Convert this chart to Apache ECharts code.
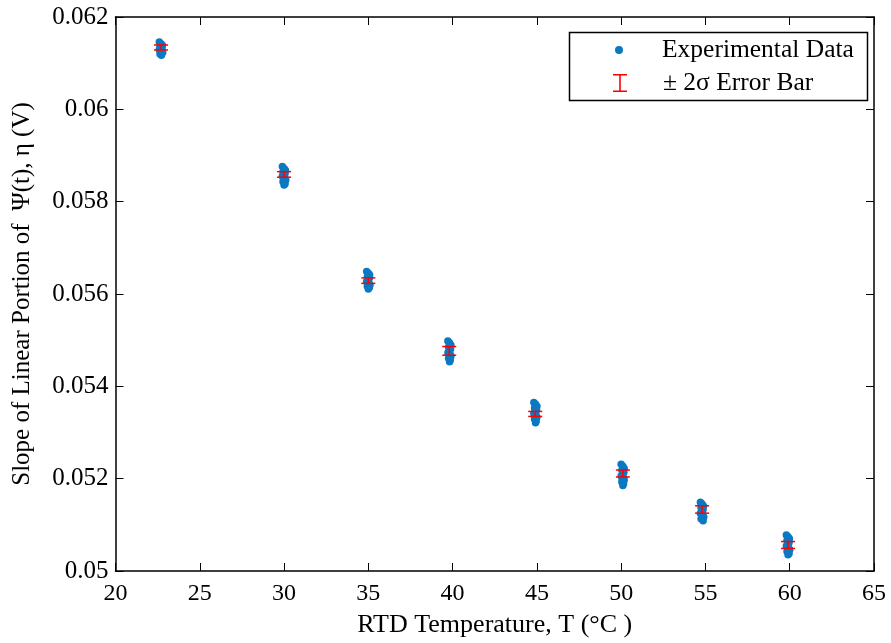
<!DOCTYPE html>
<html><head><meta charset="utf-8">
<script src="https://cdn.jsdelivr.net/npm/echarts@6/dist/echarts.min.js"></script>
<style>html,body{margin:0;padding:0;background:#fff;overflow:hidden}#c{width:891px;height:643px}</style>
</head><body><div id="c"></div>
<script>
// Tick settings
const xTicks = [20, 25, 30, 35, 40, 45, 50, 55, 60, 65];
const yTicks = [0.05, 0.052, 0.054, 0.056, 0.058, 0.06, 0.062];

// Experimental data points per temperature cluster: [T (°C), slope (V)]
const cluster1 = [[22.60,0.06146],[22.70,0.06142],[22.78,0.06139],[22.64,0.06136],[22.76,0.06133],[22.68,0.06131],[22.60,0.06129],[22.74,0.06126],[22.80,0.06123],[22.64,0.06120],[22.72,0.06117],[22.70,0.06140],[22.72,0.06134],[22.66,0.06126]];
const cluster2 = [[29.90,0.05876],[30.00,0.05872],[30.08,0.05868],[29.94,0.05864],[30.06,0.05861],[29.98,0.05858],[29.90,0.05855],[30.04,0.05851],[30.10,0.05847],[29.94,0.05843],[30.06,0.05839],[30.00,0.05836],[30.02,0.05866],[29.96,0.05852]];
const cluster3 = [[34.90,0.05649],[35.00,0.05645],[35.08,0.05641],[34.94,0.05637],[35.06,0.05634],[34.98,0.05630],[34.90,0.05627],[35.04,0.05623],[35.10,0.05620],[34.94,0.05617],[35.06,0.05614],[35.00,0.05611],[35.02,0.05638],[34.96,0.05622]];
const cluster4 = [[39.72,0.05498],[39.82,0.05494],[39.90,0.05489],[39.76,0.05485],[39.88,0.05481],[39.80,0.05477],[39.72,0.05473],[39.86,0.05469],[39.90,0.05465],[39.76,0.05461],[39.86,0.05457],[39.82,0.05453],[39.84,0.05486],[39.78,0.05470]];
const cluster5 = [[44.82,0.05365],[44.92,0.05361],[45.00,0.05357],[44.86,0.05353],[44.98,0.05349],[44.90,0.05345],[44.82,0.05341],[44.96,0.05337],[45.00,0.05333],[44.86,0.05329],[44.96,0.05325],[44.92,0.05321],[44.94,0.05350],[44.88,0.05335]];
const cluster6 = [[50.00,0.05231],[50.10,0.05227],[50.18,0.05222],[50.04,0.05218],[50.16,0.05214],[50.08,0.05210],[50.00,0.05206],[50.14,0.05202],[50.18,0.05197],[50.04,0.05193],[50.14,0.05189],[50.10,0.05185],[50.12,0.05216],[50.06,0.05200]];
const cluster7 = [[54.70,0.05149],[54.80,0.05145],[54.88,0.05141],[54.74,0.05137],[54.86,0.05133],[54.78,0.05129],[54.70,0.05125],[54.84,0.05121],[54.90,0.05117],[54.74,0.05113],[54.86,0.05109],[54.82,0.05140],[54.76,0.05124]];
const cluster8 = [[59.80,0.05078],[59.90,0.05074],[59.98,0.05070],[59.84,0.05066],[59.96,0.05062],[59.88,0.05058],[59.80,0.05054],[59.94,0.05050],[60.00,0.05046],[59.84,0.05042],[59.96,0.05038],[59.90,0.05035],[59.92,0.05068],[59.86,0.05052]];

// Error bars: temperature, mean slope, 2 sigma
const barTemps = [22.7, 30.0, 35.0, 39.8, 44.9, 50.1, 54.8, 59.9];
const barMeans = [0.06134, 0.05859, 0.05629, 0.054768, 0.053402, 0.052112, 0.051333, 0.050563];
const barTwoSigma = [0.000054, 0.00006, 0.00006, 0.000094, 0.000054, 0.000075, 0.00008, 0.000075];

const points = [].concat(cluster1, cluster2, cluster3, cluster4, cluster5, cluster6, cluster7, cluster8);
const bars = barTemps.map((t, i) => [t, barMeans[i], barTwoSigma[i]]);

const FONT = '"Liberation Serif", "Times New Roman", serif';
const BLUE = '#0b79c2';
const RED = '#ff0000';

const chart = echarts.init(document.getElementById('c'), null, {renderer: 'canvas', width: 891, height: 643});
const commonAxisLine = {show: true, lineStyle: {color: '#000', width: 1.5}};
chart.setOption({
  animation: false,
  backgroundColor: '#fff',
  grid: {left: 115.5, top: 17, width: 758.5, height: 559, containLabel: false},
  xAxis: [{
    type: 'value', min: xTicks[0], max: xTicks[xTicks.length - 1], interval: 5,
    name: 'RTD Temperature, T (°C )', nameLocation: 'middle', nameGap: 41,
    nameTextStyle: {fontFamily: FONT, fontSize: 26, color: '#000'},
    axisLine: commonAxisLine,
    axisTick: {show: true, inside: true, length: 8, lineStyle: {color: '#000'}},
    axisLabel: {fontFamily: FONT, fontSize: 24, color: '#000', margin: 11},
    splitLine: {show: false}
  }, {
    type: 'value', position: 'top', min: xTicks[0], max: xTicks[xTicks.length - 1], interval: 5,
    axisLine: commonAxisLine,
    axisTick: {show: true, inside: true, length: 8, lineStyle: {color: '#000'}},
    axisLabel: {show: false}, splitLine: {show: false}
  }],
  yAxis: [{
    type: 'value', min: yTicks[0], max: yTicks[yTicks.length - 1], interval: 0.002,
    name: 'Slope of Linear Portion of  Ψ(t), η (V)', nameLocation: 'middle', nameGap: 81,
    nameTextStyle: {fontFamily: FONT, fontSize: 25, color: '#000'},
    axisLine: commonAxisLine,
    axisTick: {show: true, inside: true, length: 8, lineStyle: {color: '#000'}},
    axisLabel: {fontFamily: FONT, fontSize: 25, color: '#000', margin: 7},
    splitLine: {show: false}
  }, {
    type: 'value', position: 'right', min: yTicks[0], max: yTicks[yTicks.length - 1], interval: 0.002,
    axisLine: commonAxisLine,
    axisTick: {show: true, inside: true, length: 8, lineStyle: {color: '#000'}},
    axisLabel: {show: false}, splitLine: {show: false}
  }],
  legend: [{
    data: [{name: 'Experimental Data', icon: 'circle'}],
    left: 610, top: 32, orient: 'vertical',
    itemWidth: 76, itemHeight: 8,
    textStyle: {fontFamily: FONT, fontSize: 25.5, color: '#000'},
    selectedMode: false
  }, {
    data: [{name: '± 2σ Error Bar', icon: 'path://M0,0h14v1.6h-14z M6.2,0h1.6v18h-1.6z M0,16.4h14v1.6h-14z'}],
    left: 608, top: 65, orient: 'vertical',
    itemWidth: 76, itemHeight: 18,
    textStyle: {fontFamily: FONT, fontSize: 25.5, color: '#000'},
    selectedMode: false
  }],
  graphic: [{
    type: 'rect', left: 567, top: 30, z: 100,
    shape: {width: 298, height: 68},
    style: {fill: 'none', stroke: '#000', lineWidth: 1.5}
  }],
  series: [{
    name: 'Experimental Data', type: 'scatter', data: points,
    symbol: 'circle', symbolSize: 7.5,
    itemStyle: {color: BLUE, opacity: 1}, z: 2
  }, {
    name: '± 2σ Error Bar', type: 'custom', data: bars, z: 3,
    itemStyle: {color: RED},
    encode: {x: 0, y: 1},
    renderItem: function (params, api) {
      const x = api.value(0), m = api.value(1), s = api.value(2);
      const top = api.coord([x, m + s]);
      const bot = api.coord([x, m - s]);
      const hw = 7;
      const st = {stroke: RED, lineWidth: 1.5, fill: 'none'};
      return {type: 'group', children: [
        {type: 'line', shape: {x1: top[0], y1: top[1], x2: bot[0], y2: bot[1]}, style: st},
        {type: 'line', shape: {x1: top[0] - hw, y1: top[1], x2: top[0] + hw, y2: top[1]}, style: st},
        {type: 'line', shape: {x1: bot[0] - hw, y1: bot[1], x2: bot[0] + hw, y2: bot[1]}, style: st}
      ]};
    }
  }]
});
</script></body></html>
